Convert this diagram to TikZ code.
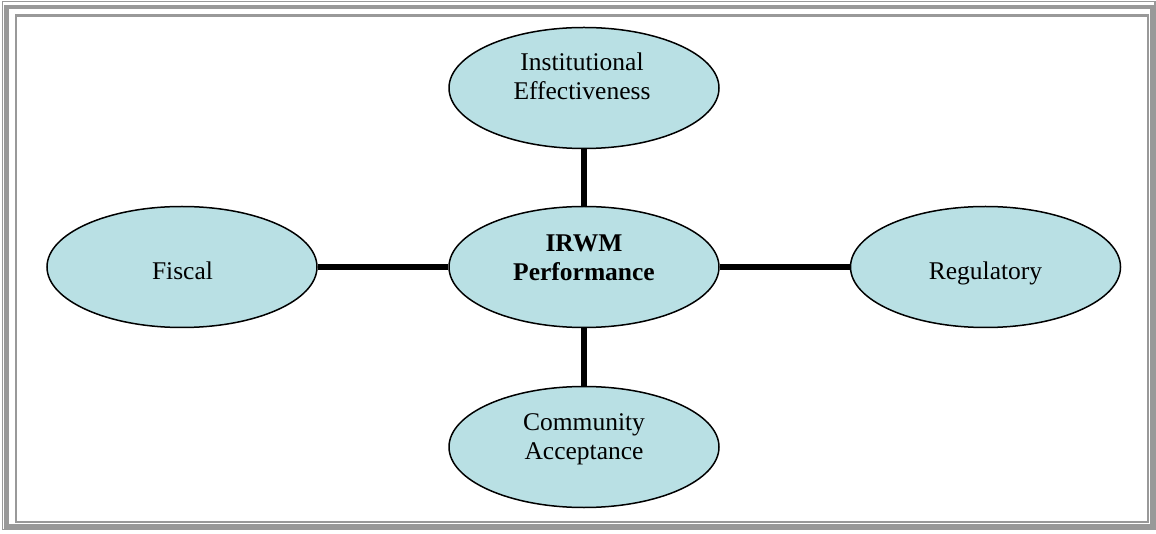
\documentclass[tikz,border=0pt]{standalone}
\usepackage{fontspec}
\setmainfont{Liberation Serif}
\usetikzlibrary{shapes.geometric,backgrounds}
\definecolor{bubble}{RGB}{185,224,228}
\definecolor{framegray}{RGB}{153,153,153}
\begin{document}
\begin{tikzpicture}[x=1pt,y=-1pt,
  bubble/.style={ellipse,draw=black,line width=1.5pt,fill=bubble,
    minimum width=270pt,minimum height=121pt,inner sep=0pt},
  caption/.style={anchor=base,inner sep=0pt,
    font=\fontsize{25.5}{29}\selectfont},
  link/.style={line width=6pt,black},
  frameline/.style={draw=framegray}]
\useasboundingbox (0,0) rectangle (1156,534);

% triple page frame
\draw[frameline,line width=1.2pt] (2.5,1.5) rectangle (1155,529.5);
\draw[frameline,line width=4.5pt] (6.5,7) rectangle (1152.5,526.5);
\draw[frameline,line width=2.5pt] (16,15.5) rectangle (1148,522);

% ellipses
\node[bubble] (ie)   at (584,88)    {};
\node[bubble] (irwm) at (584,267)   {};
\node[bubble] (fis)  at (182,267)   {};
\node[bubble] (reg)  at (985.5,267) {};
\node[bubble] (ca)   at (584,447)   {};

% labels
\node[caption] (ie1) at (582,70.7) {Institutional};
\node[caption] (ie2) at (582,100) {Effectiveness};
\node[caption,font=\fontsize{25.5}{29}\selectfont\bfseries] (ir1) at (584,252) {IRWM};
\node[caption,font=\fontsize{25.5}{29}\selectfont\bfseries] (ir2) at (584,281) {Performance};
\node[caption] (fist) at (182.5,280) {Fiscal};
\node[caption] (regt) at (985.5,280) {Regulatory};
\node[caption] (ca1) at (584,430) {Community};
\node[caption] (ca2) at (584,459.3) {Acceptance};

% spokes from the centre, drawn beneath the ellipses
\begin{pgfonlayer}{background}
\draw[link] (ie.south) -- (irwm.north);
\draw[link] (irwm.south) -- (ca.north);
\draw[link] (fis.east) -- (irwm.west);
\draw[link] (irwm.east) -- (reg.west);
\end{pgfonlayer}
\end{tikzpicture}
\end{document}
